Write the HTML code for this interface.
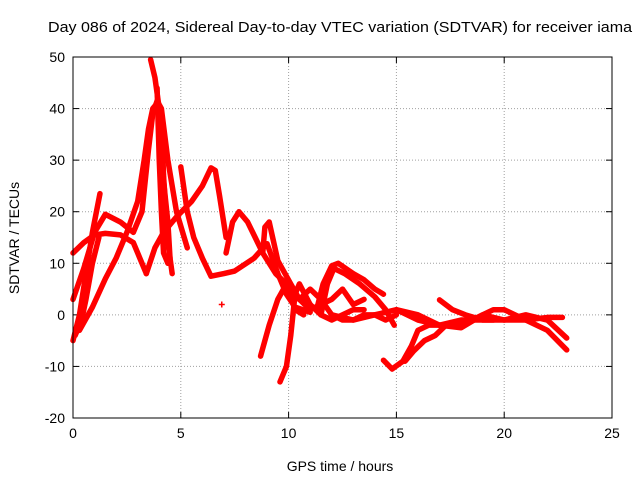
<!DOCTYPE html>
<html><head><meta charset="utf-8"><style>
body{margin:0;background:#fff;}
svg{display:block;font-family:"Liberation Sans",sans-serif;}
</style></head><body>
<svg id="chart" width="640" height="480">
<text x="340" y="32" text-anchor="middle" font-size="15" textLength="584" lengthAdjust="spacingAndGlyphs">Day 086 of 2024, Sidereal Day-to-day VTEC variation (SDTVAR) for receiver iama</text>
<text x="340" y="471" text-anchor="middle" font-size="14">GPS time / hours</text>
<text transform="translate(19,238) rotate(-90)" text-anchor="middle" font-size="14">SDTVAR / TECUs</text>
<g id="grid"></g>
<g id="ticks"></g>
<g id="series"></g>
<rect x="73" y="57" width="539" height="361" fill="none" stroke="#000"/>
</svg>
<script>
const xTicks=[0,5,10,15,20,25];
const yTicks=[-20,-10,0,10,20,30,40,50];
const trackA=[[0,-5],[0.3,0],[0.6,8],[0.9,16],[1.25,23.5]];
const trackA2=[[0.1,-4],[0.4,-1],[0.6,3],[0.9,10],[1.2,15]];
const trackB=[[0,12],[0.5,14],[1,15.5],[1.5,15.8],[2.2,15.5],[2.8,14],[3.1,11],[3.4,8]];
const trackB2=[[3.4,8],[3.8,13],[4.2,16],[4.8,19],[5.5,22],[6,25],[6.4,28.5],[6.6,28],[6.8,23],[7.1,15]];
const trackC=[[0,3],[0.5,9],[1,16],[1.5,19.5],[2.2,18],[2.8,16],[3.2,20],[3.5,32],[3.7,39],[3.9,41.5],[4.1,40],[4.4,30],[4.8,20],[5.3,13]];
const trackD=[[0.3,-3],[0.9,1.5],[1.5,7],[2,11],[2.5,16],[3,22],[3.3,30],[3.5,36],[3.7,40],[3.9,41]];
const trackE=[[3.6,49.5],[3.8,46],[4,40],[4.1,37],[4.2,27],[4.4,14],[4.6,8]];
const trackQ=[[3.9,44],[4,30],[4.1,20],[4.2,12],[4.4,10]];
const trackQ2=[[4.1,38],[4.2,26],[4.4,18],[4.5,11]];
const trackF=[[5,28.7],[5.3,20],[5.6,15],[6,11],[6.4,7.5],[7,8],[7.5,8.5],[8.4,11],[9,13.8],[9.5,8],[9.9,4],[10.3,1.5],[11,0.5]];
const trackG=[[7.1,12],[7.4,18],[7.7,20],[8.1,18],[8.8,12],[9.4,8],[9.9,6],[10.3,1],[10.7,0]];
const trackH=[[8.8,12],[8.9,17],[9.1,18],[9.5,10.5],[10.1,6],[10.5,3],[11,2]];
const trackI=[[9.6,-13],[9.9,-10],[10.1,-4],[10.3,4],[10.5,6],[11,2],[11.5,0],[12,-1],[12.5,0],[13,1],[13.5,1]];
const trackJ=[[8.7,-8],[9.1,-2],[9.5,3],[9.9,6],[10.5,3],[11,1],[11.5,2],[12,3],[12.5,5],[13,2],[13.5,3]];
const trackK=[[11.3,1],[11.6,6],[12,9.5],[12.3,10],[13,8],[13.5,6.8],[14,5],[14.4,4]];
const trackK2=[[11.5,0],[11.8,6],[12.1,9],[12.6,8],[13.3,6],[14,3.5],[14.5,1],[14.9,-2]];
const trackL=[[14.4,-8.8],[14.8,-10.5],[15.3,-9],[15.7,-6],[16,-3],[16.5,-2],[17,-2],[18,-1],[19,-1],[20,-1],[21,0],[22,-1],[22.9,-4.5]];
const trackL2=[[15.4,-9],[15.8,-7],[16.3,-5],[16.8,-4],[17.3,-2]];
const trackM=[[12,0],[13,-1],[14,0],[15,1],[16,-1],[17,-2],[18,-2],[19,0],[20,-1],[21,-1],[22,-3],[22.9,-6.8]];
const trackN=[[15,1],[16,0],[17,-2],[18,-2.5],[19,0],[19.5,1],[20,1],[21,-1],[22,-0.5],[22.7,-0.5]];
const trackO=[[17,2.9],[17.6,1],[18.2,0],[19,-1],[19.5,-1]];
const trackP=[[10.5,3],[11,5],[11.5,3],[12,0],[12.5,-1],[13,-1],[13.5,0],[14,0],[14.5,-1],[15,0]];
const tracks=[trackA,trackA2,trackB,trackB2,trackC,trackD,trackE,trackQ,trackQ2,trackF,trackG,trackH,trackI,trackJ,trackK,trackK2,trackL,trackL2,trackM,trackN,trackO,trackP];
const isolated=[[6.9,2]];
const X0=73,X1=612,Y0=418,Y1=57;
const xs=v=>X0+(v-0)/25*(X1-X0);
const ys=v=>Y0-(v+20)/70*(Y0-Y1);
const NS='http://www.w3.org/2000/svg';
const grid=document.getElementById('grid'),ticks=document.getElementById('ticks'),ser=document.getElementById('series');
function mk(t,a,p){const e=document.createElementNS(NS,t);for(const k in a)e.setAttribute(k,a[k]);p.appendChild(e);return e;}
xTicks.forEach(v=>{const x=xs(v);
 if(v>0&&v<25){const l=mk('line',{x1:x,x2:x,y1:Y0,y2:Y1,stroke:'#a0a0a0','stroke-dasharray':'1,2'},grid);}
 mk('line',{x1:x,x2:x,y1:Y0,y2:Y0-6,stroke:'#000'},ticks);mk('line',{x1:x,x2:x,y1:Y1,y2:Y1+6,stroke:'#000'},ticks);
 const t=mk('text',{x:x,y:Y0+20,'text-anchor':'middle','font-size':14},ticks);t.textContent=v;
 });
yTicks.forEach(v=>{const y=ys(v);
 if(v>-20&&v<50){const l=mk('line',{x1:X0,x2:X1,y1:y,y2:y,stroke:'#a0a0a0','stroke-dasharray':'1,2'},grid);}
 mk('line',{x1:X0,x2:X0+6,y1:y,y2:y,stroke:'#000'},ticks);mk('line',{x1:X1,x2:X1-6,y1:y,y2:y,stroke:'#000'},ticks);
 const t=mk('text',{x:X0-8,y:y+5,'text-anchor':'end','font-size':14},ticks);t.textContent=v;
 });
tracks.forEach(tr=>{const p=mk('polyline',{points:tr.map(d=>xs(d[0])+','+ys(d[1])).join(' '),fill:'none',stroke:'#f00','stroke-width':5.5,'stroke-linejoin':'round','stroke-linecap':'round'},ser);
 });
isolated.forEach(d=>{const x=xs(d[0]),y=ys(d[1]);const g=mk('path',{d:`M${x-3},${y}h6M${x},${y-3}v6`,stroke:'#f00','stroke-width':1.5},ser);
 });
</script>
</body></html>
